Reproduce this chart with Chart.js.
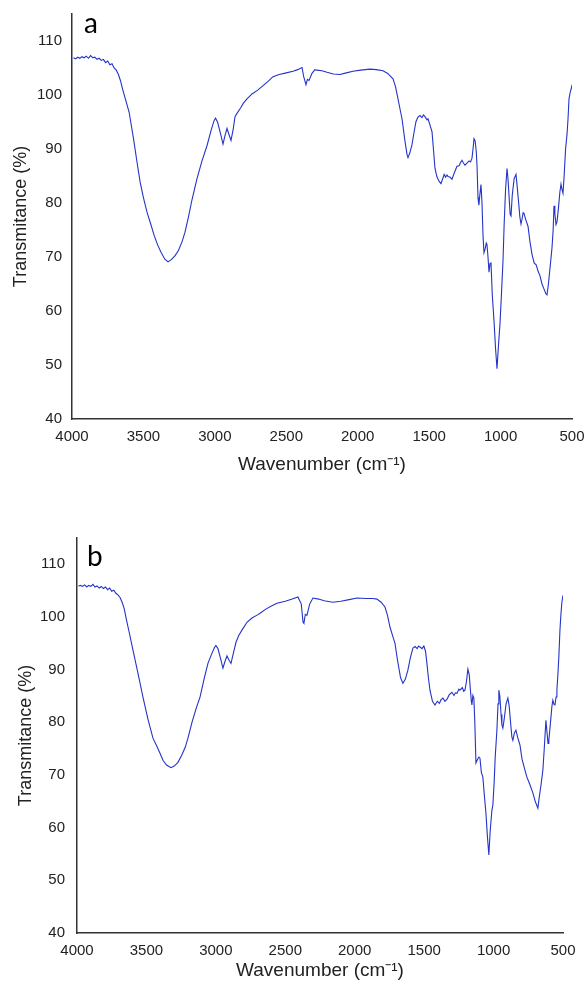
<!DOCTYPE html>
<html>
<head>
<meta charset="utf-8">
<script src="https://cdn.jsdelivr.net/npm/chart.js@4.4.0/dist/chart.umd.min.js"></script>
<style>
  html, body { margin: 0; padding: 0; background: #fff; }
  #wrap { position: relative; width: 584px; height: 988px; overflow: hidden; }
  canvas { position: absolute; left: 0; }
  #ftirA { top: 0; }
  #ftirB { top: 490px; }
</style>
</head>
<body>
<div id="wrap">
  <canvas id="ftirA" width="584" height="488"></canvas>
  <canvas id="ftirB" width="584" height="498"></canvas>
</div>
<script>
// spectrum a
const wavenumberA = [
  3990, 3975, 3960, 3945, 3930, 3915, 3900, 3885, 3870, 3855,
  3840, 3825, 3810, 3795, 3780, 3765, 3750, 3735, 3720, 3705,
  3690, 3675, 3660, 3645, 3630, 3600, 3570, 3545, 3524, 3500,
  3475, 3450, 3425, 3400, 3375, 3350, 3328, 3305, 3280, 3255,
  3230, 3209, 3185, 3160, 3125, 3090, 3055, 3025, 3005, 2995,
  2980, 2960, 2943, 2930, 2915, 2900, 2887, 2872, 2859, 2845,
  2820, 2800, 2775, 2740, 2700, 2650, 2620, 2593, 2550, 2500,
  2453, 2420, 2390, 2378, 2362, 2352, 2341, 2320, 2300, 2285,
  2250, 2215, 2170, 2124, 2080, 2033, 1980, 1914, 1870, 1823,
  1790, 1753, 1735, 1718, 1700, 1690, 1669, 1655, 1648, 1635,
  1620, 1605, 1592, 1578, 1564, 1550, 1540, 1529, 1515, 1508,
  1495, 1480, 1470, 1459, 1445, 1430, 1417, 1405, 1395, 1385,
  1375, 1368, 1355, 1340, 1325, 1305, 1290, 1280, 1270, 1260,
  1249, 1235, 1221, 1210, 1200, 1192, 1186, 1178, 1170, 1165,
  1158, 1152, 1145, 1137, 1130, 1123, 1116, 1108, 1100, 1095,
  1088, 1081, 1074, 1067, 1058, 1046, 1035, 1025, 1015, 1004,
  994, 983, 975, 965, 955, 948, 940, 933, 927, 918,
  905, 892, 885, 872, 865, 857, 850, 842, 836, 825,
  808, 795, 780, 765, 750, 738, 725, 710, 695, 683,
  675, 665, 650, 640, 632, 626, 620, 612, 605, 595,
  585, 577, 570, 563, 555, 545, 535, 528, 521, 512,
  505, 500
];
const transmittanceA = [
  106.9, 106.7, 107.0, 106.8, 107.1, 106.9, 107.2, 106.8, 107.3, 106.9,
  107.0, 106.6, 106.8, 106.4, 106.6, 106.0, 106.3, 105.6, 105.8, 105.0,
  104.6, 103.8, 102.6, 101.0, 99.6, 96.8, 92.0, 87.6, 84.0, 81.0,
  78.3, 76.2, 74.0, 72.2, 70.8, 69.6, 69.1, 69.5, 70.2, 71.2,
  72.8, 74.6, 77.4, 80.6, 84.5, 87.8, 90.6, 93.6, 95.3, 95.7,
  94.9, 92.8, 90.9, 92.4, 93.8, 92.6, 91.6, 93.6, 96.0, 96.6,
  97.6, 98.5, 99.3, 100.2, 100.9, 102.0, 102.7, 103.4, 103.8, 104.1,
  104.4, 104.7, 105.1, 103.4, 101.9, 102.9, 102.7, 104.0, 104.7, 104.6,
  104.5, 104.2, 103.9, 103.8, 104.1, 104.4, 104.6, 104.8, 104.7, 104.5,
  104.0, 103.0, 101.5, 99.3, 96.9, 95.6, 91.4, 89.0, 88.4, 89.3,
  90.8, 93.2, 95.1, 95.9, 96.2, 95.8, 96.3, 96.0, 95.4, 95.6,
  94.5, 93.2, 90.0, 86.4, 84.8, 84.0, 83.6, 84.5, 85.3, 84.8,
  85.2, 84.9, 84.8, 84.4, 85.5, 86.8, 86.9, 87.5, 87.9, 87.4,
  87.0, 87.4, 87.8, 87.6, 88.3, 90.2, 91.9, 91.5, 89.5, 87.0,
  81.0, 79.6, 81.5, 83.4, 80.0, 74.0, 70.8, 71.5, 72.6, 72.3,
  70.0, 67.2, 68.8, 68.9, 63.0, 58.2, 53.0, 49.3, 53.5, 57.7,
  63.0, 69.3, 76.0, 82.5, 86.4, 84.5, 81.0, 77.9, 77.6, 81.5,
  84.5, 85.3, 83.4, 79.6, 77.4, 76.1, 77.0, 78.2, 78.1, 77.0,
  75.7, 73.0, 70.5, 68.9, 68.5, 67.4, 66.6, 65.0, 64.0, 63.2,
  63.0, 65.0, 69.0, 71.7, 75.0, 79.5, 78.0, 76.0, 76.5, 79.0,
  82.0, 83.5, 82.5, 81.8, 85.0, 90.0, 92.7, 95.5, 99.3, 100.6,
  101.2, 101.9
];

// spectrum b
const wavenumberB = [
  3990, 3975, 3960, 3945, 3930, 3915, 3900, 3885, 3870, 3855,
  3840, 3825, 3810, 3795, 3780, 3765, 3750, 3735, 3720, 3705,
  3690, 3675, 3660, 3645, 3625, 3597, 3560, 3525, 3490, 3453,
  3424, 3400, 3381, 3355, 3323, 3300, 3273, 3245, 3220, 3201,
  3170, 3140, 3114, 3085, 3057, 3030, 3010, 3000, 2985, 2965,
  2949, 2935, 2920, 2905, 2891, 2875, 2855, 2835, 2810, 2776,
  2740, 2700, 2682, 2640, 2600, 2560, 2500, 2450, 2409, 2385,
  2372, 2366, 2356, 2344, 2325, 2301, 2260, 2220, 2157, 2100,
  2040, 1984, 1920, 1870, 1840, 1810, 1782, 1765, 1746, 1728,
  1710, 1690, 1670, 1653, 1635, 1617, 1600, 1581, 1565, 1550,
  1540, 1530, 1515, 1502, 1490, 1480, 1470, 1458, 1440, 1422,
  1405, 1390, 1378, 1365, 1350, 1335, 1320, 1300, 1285, 1275,
  1264, 1250, 1242, 1225, 1215, 1206, 1195, 1185, 1175, 1168,
  1160, 1156, 1149, 1142, 1135, 1127, 1115, 1106, 1098, 1088,
  1077, 1066, 1055, 1044, 1034, 1024, 1012, 1005, 996, 988,
  976, 968, 962, 955, 946, 940, 933, 924, 910, 897,
  888, 876, 868, 861, 850, 839, 825, 810, 795, 775,
  760, 740, 717, 700, 681, 670, 658, 645, 635, 623,
  615, 608, 602, 590, 580, 573, 565, 558, 550, 544,
  537, 530, 522, 515, 508, 500
];
const transmittanceB = [
  105.9, 106.0, 105.8, 106.1, 105.7, 106.0, 105.8, 106.2, 105.7, 105.9,
  105.5, 105.8, 105.4, 105.7, 105.2, 105.5, 104.9, 105.1, 104.5, 104.2,
  103.7, 102.8, 101.6, 99.6, 97.2, 93.7, 89.2, 84.8, 80.7, 77.0,
  75.4, 74.0, 72.8, 71.9, 71.4, 71.7, 72.4, 73.8, 75.3, 77.0,
  80.2, 82.8, 84.8, 88.2, 91.2, 93.0, 94.2, 94.6, 94.0, 92.0,
  90.3, 91.5, 92.6, 91.8, 91.2, 93.0, 95.2, 96.5, 97.6, 99.0,
  99.8, 100.4, 100.7, 101.5, 102.1, 102.6, 103.0, 103.4, 103.8, 102.5,
  99.0, 98.8, 100.5, 100.3, 102.4, 103.6, 103.4, 103.1, 102.8, 103.0,
  103.3, 103.6, 103.5, 103.5, 103.4, 102.8, 101.9, 100.4, 98.1, 96.5,
  95.0, 91.5, 88.5, 87.4, 88.2, 89.9, 92.2, 94.1, 94.4, 94.0,
  94.5, 94.3, 94.0, 94.5, 93.5, 91.2, 88.6, 86.1, 84.0, 83.3,
  84.0, 83.6, 84.3, 84.6, 84.0, 84.4, 85.2, 85.7, 85.1, 85.6,
  85.5, 86.3, 86.1, 86.6, 85.9, 86.1, 87.8, 90.1, 89.0, 86.5,
  84.0, 83.3, 85.1, 84.6, 80.0, 72.3, 73.0, 73.4, 73.2, 70.5,
  69.6, 66.0, 62.8, 58.2, 54.8, 59.5, 63.3, 64.3, 68.5, 73.5,
  78.5, 83.5, 86.1, 85.0, 81.5, 79.5, 78.9, 80.5, 83.5, 84.6,
  83.2, 79.5, 77.2, 76.6, 78.0, 78.5, 77.0, 75.7, 73.0, 71.0,
  69.6, 68.3, 66.6, 65.0, 63.7, 66.0, 68.2, 70.9, 75.0, 80.4,
  78.0, 76.0, 76.6, 80.0, 83.0, 84.2, 83.4, 83.3, 84.8, 86.1,
  89.0, 92.4, 97.5, 100.5, 102.8, 104.1
];

const xTicks = [4000, 3500, 3000, 2500, 2000, 1500, 1000, 500];
const yTicks = [40, 50, 60, 70, 80, 90, 100, 110];

const sans = "'Liberation Sans', Arial, sans-serif";

// draws the panel letter (a / b) inside the plot corner
const panelLabel = {
  id: 'panelLabel',
  afterDraw(chart, args, opts) {
    const { ctx, chartArea } = chart;
    ctx.save();
    ctx.font = '28px Lato, sans-serif';
    ctx.fillStyle = '#000';
    ctx.textBaseline = 'alphabetic';
    ctx.fillText(opts.text, chartArea.left + opts.dx, chartArea.top + opts.dy);
    ctx.restore();
  }
};

function drawSpectrum(id, wn, tr, f) {
  const canvas = document.getElementById(id);
  const points = wn.map((w, i) => ({ x: w, y: tr[i] }));
  return new Chart(canvas, {
    type: 'line',
    data: {
      datasets: [{
        data: points,
        borderColor: '#2434c8',
        borderWidth: 1.1,
        pointRadius: 0,
        tension: 0
      }]
    },
    options: {
      responsive: false,
      animation: false,
      events: [],
      layout: { padding: { top: f.top, right: canvas.width - f.right, left: 0, bottom: 0 } },
      plugins: {
        legend: { display: false },
        tooltip: { enabled: false },
        panelLabel: { text: f.label, dx: f.labelDx, dy: f.labelDy }
      },
      scales: {
        x: {
          type: 'linear',
          reverse: true,
          min: 500,
          max: 4000,
          afterBuildTicks: s => { s.ticks = xTicks.map(v => ({ value: v })); },
          afterFit: s => {
            s.height = canvas.height - f.bottom;
            s.paddingLeft = 0;
            s.paddingRight = 0;
          },
          grid: { display: false, drawTicks: false },
          border: { display: true, color: '#333', width: 1.5 },
          ticks: {
            color: '#222', font: { family: sans, size: 15 },
            padding: 9, maxRotation: 0, autoSkip: false,
            callback: v => String(v)
          },
          title: {
            display: true,
            text: 'Wavenumber (cm\u207B\u00B9)',
            color: '#222',
            font: { family: sans, size: 19 },
            padding: { top: 0, bottom: f.xTitlePad }
          }
        },
        y: {
          min: 40,
          max: 115,
          afterBuildTicks: s => { s.ticks = yTicks.map(v => ({ value: v })); },
          afterFit: s => {
            s.width = f.left;
            s.paddingTop = 0;
            s.paddingBottom = 0;
          },
          grid: { display: false, drawTicks: false },
          border: { display: true, color: '#333', width: 1.5 },
          ticks: {
            color: '#222', font: { family: sans, size: 15 }, padding: f.yTickPad,
            callback: v => String(v)
          },
          title: {
            display: true,
            text: 'Transmitance (%)',
            color: '#222',
            font: { family: sans, size: 18 },
            padding: { top: f.yTitlePad, bottom: 0 }
          }
        }
      }
    },
    plugins: [panelLabel]
  });
}

drawSpectrum('ftirA', wavenumberA, transmittanceA, {
  left: 72, right: 572, top: 14, bottom: 419,
  yTickPad: 10, yTitlePad: 10, xTitlePad: 12,
  label: 'a', labelDx: 12, labelDy: 19
});

drawSpectrum('ftirB', wavenumberB, transmittanceB, {
  left: 77, right: 563, top: 48, bottom: 443,
  yTickPad: 12, yTitlePad: 15, xTitlePad: 6,
  label: 'b', labelDx: 10, labelDy: 28
});
</script>
</body>
</html>
